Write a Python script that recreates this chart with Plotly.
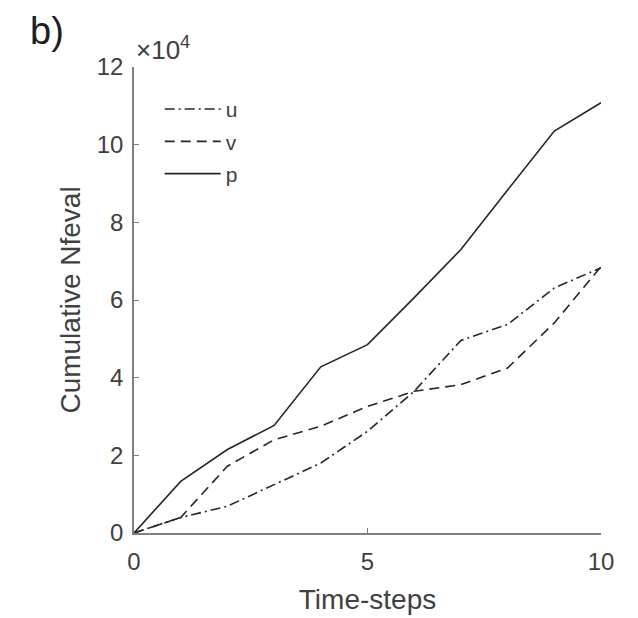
import plotly.graph_objects as go

steps = list(range(11))
u_vals = [0, 4000, 6900, 12500, 18000, 26200, 36500, 49600, 53700, 63100, 68300]
v_vals = [0, 4000, 17200, 24000, 27500, 32600, 36500, 38200, 42500, 54100, 68600]
p_vals = [0, 13300, 21500, 27700, 42800, 48500, 60600, 73000, 88300, 103500, 110800]
ytick_vals = [0, 20000, 40000, 60000, 80000, 100000, 120000]
ytick_text = ["0", "2", "4", "6", "8", "10", "12"]
xtick_vals = [0, 5, 10]

line_col = "#262626"
axis_col = "#808080"
text_col = "#404040"
font_family = "Liberation Sans, Arial, sans-serif"

fig = go.Figure()
fig.add_trace(go.Scatter(x=steps, y=u_vals, mode="lines", name="u", legendgroup="u",
                         line=dict(color=line_col, width=1.6, dash="10px,4px,2px,4px")))
fig.add_trace(go.Scatter(x=steps, y=v_vals, mode="lines", name="v", legendgroup="v",
                         line=dict(color=line_col, width=1.6, dash="10px,6px")))
fig.add_trace(go.Scatter(x=steps, y=p_vals, mode="lines", name="p", legendgroup="p",
                         line=dict(color=line_col, width=1.6)))

fig.update_layout(
    width=638, height=618,
    margin=dict(l=134, r=37, t=67, b=85),
    paper_bgcolor="white", plot_bgcolor="white",
    font=dict(family=font_family, size=24, color=text_col),
    showlegend=True,
    legend=dict(x=0.055, y=0.953, xanchor="left", yanchor="top",
                bgcolor="rgba(0,0,0,0)", font=dict(size=21, color=text_col),
                tracegroupgap=2, itemwidth=56),
    xaxis=dict(range=[0, 10], tickvals=xtick_vals, ticks="inside", ticklen=5,
               tickcolor=axis_col, showline=True, linecolor=axis_col, linewidth=1.5,
               showgrid=False, zeroline=False, mirror=False, ticklabelstandoff=6,
               automargin=False,
               title=dict(text="Time-steps", font=dict(size=28, color=text_col), standoff=16),
               tickfont=dict(size=24, color=text_col)),
    yaxis=dict(range=[0, 120000], tickvals=ytick_vals, ticktext=ytick_text,
               ticks="inside", ticklen=5, tickcolor=axis_col,
               showline=True, linecolor=axis_col, linewidth=1.5,
               showgrid=False, zeroline=False, mirror=False, ticklabelstandoff=4,
               automargin=False,
               title=dict(text="Cumulative Nfeval", font=dict(size=28, color=text_col), standoff=8),
               tickfont=dict(size=24, color=text_col)),
    annotations=[
        dict(text="×10<sup>4</sup>", xref="paper", yref="paper", x=0.0, y=1.0,
             xanchor="left", yanchor="bottom", showarrow=False,
             font=dict(size=26, color=text_col)),
        dict(text="b)", xref="paper", yref="paper", x=-0.227, y=1.127,
             xanchor="left", yanchor="top", showarrow=False,
             font=dict(size=38, color="#202020")),
    ],
)

fig.write_html("out.html")
